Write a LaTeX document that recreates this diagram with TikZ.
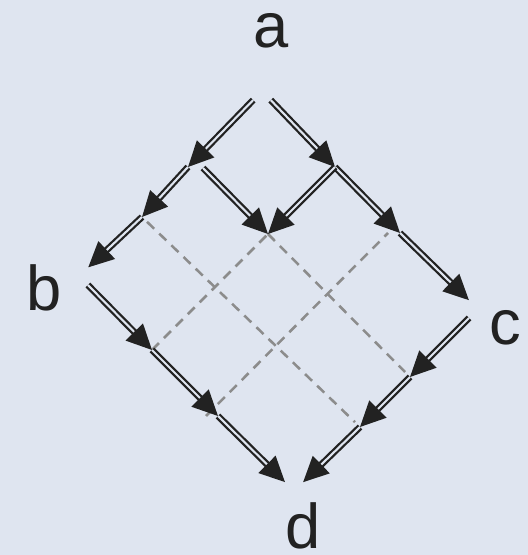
\documentclass[tikz,border=0pt]{standalone}
\usepackage{fontspec}
\newfontfamily\labelfont{Liberation Sans}
\usetikzlibrary{arrows.meta}
\definecolor{bgblue}{RGB}{223,229,240}
\definecolor{ink}{RGB}{34,34,34}
\definecolor{gridgray}{RGB}{140,140,140}

\begin{document}
\begin{tikzpicture}[
      >={Triangle[length=18pt,width=17pt]},
      lab/.style={font=\labelfont\fontsize{45}{54}\selectfont,text=ink,anchor=base,inner sep=0pt},
      arr/.style={draw=ink,line width=1.6pt,double=bgblue,double distance=1.5pt,->},
      gridline/.style={draw=gridgray,line width=1.8pt,dash pattern=on 7pt off 5pt}
    ]
    \fill[bgblue] (0,0) rectangle (13.2,13.875);
    % grid points: p00 = a, p30 = b, p03 = c, p33 = d
    \coordinate (p00) at (6.55,11.6);
    \coordinate (p10) at (4.70,9.70);
    \coordinate (p20) at (3.55,8.45);
    \coordinate (p30) at (1.975,6.975);
    \coordinate (p01) at (8.375,9.70);
    \coordinate (p02) at (10.0,8.05);
    \coordinate (p03) at (11.95,6.15);
    \coordinate (p11) at (6.70,8.025);
    \coordinate (p31) at (3.80,5.125);
    \coordinate (p32) at (5.45,3.475);
    \coordinate (p33) at (7.35,1.60);
    \coordinate (p13) at (10.25,4.45);
    \coordinate (p23) at (9.0,3.20);
    % labels
    \node[lab] (la) at (6.775,12.675) {a};
    \node[lab] (lb) at (1.10,6.10) {b};
    \node[lab] (lc) at (12.625,5.25) {c};
    \node[lab] (ld) at (7.575,0.17) {d};
    % dashed tiles
    \draw[gridline,shorten <=5pt,shorten >=5pt] (p20) -- (p23);
    \draw[gridline,shorten >=5pt] (p11) -- (p13);
    \draw[gridline] (p31) -- (p11);
    \draw[gridline] ([xshift=-0.3cm]p32) -- ([xshift=-0.3cm]p02);
    % reductions
    \foreach \s/\t in {p00/p10,p00/p01,p30/p31,p03/p13}{\draw[arr,shorten <=9pt] (\s) -- (\t);}
    \foreach \s/\t in {p10/p20,p01/p02,p31/p32,p13/p23,p01/p11}{\draw[arr] (\s) -- (\t);}
    \foreach \s/\t in {p20/p30,p02/p03,p32/p33,p23/p33}{\draw[arr,shorten >=9pt] (\s) -- (\t);}
    \draw[arr] ([shift={(0.375,-0.025)}]p10) -- (p11);
  \end{tikzpicture}
\end{document}
